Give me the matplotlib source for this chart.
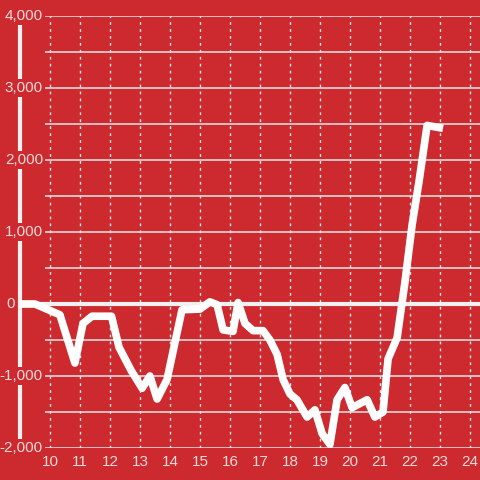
import matplotlib
matplotlib.use("Agg")
import matplotlib.pyplot as plt
import matplotlib.transforms as mtransforms

# values
hours = [9.0, 9.5, 10.33, 10.83, 11.1, 11.4, 12.05, 12.3, 12.7, 13.07, 13.33,
         13.57, 13.9, 14.4, 15.0, 15.33, 15.57, 15.77, 16.1, 16.27, 16.5,
         16.77, 17.1, 17.33, 17.57, 17.77, 18.0, 18.23, 18.57, 18.83, 19.07,
         19.33, 19.57, 19.83, 20.07, 20.57, 20.83, 21.1, 21.27, 21.57, 21.83,
         22.07, 22.3, 22.57, 23.1]
values = [0, 0, -150, -820, -270, -170, -170, -600, -920, -1170, -1000,
          -1320, -1050, -80, -70, 30, -10, -360, -380, 20, -270,
          -370, -370, -500, -700, -1050, -1250, -1330, -1570, -1470, -1800,
          -1950, -1330, -1160, -1440, -1330, -1570, -1500, -760, -470, 300,
          1100, 1700, 2480, 2440]
x_ticks = list(range(10, 25))
y_ticks = [-2000, -1000, 0, 1000, 2000, 3000, 4000]
y_grid = [-2000, -1500, -1000, -500, 500, 1000, 1500, 2000, 2500, 3000, 3500, 4000]

bg = "#cc2a2f"
txt = "#f4dada"

fig = plt.figure(figsize=(4.8, 4.8), dpi=100)
fig.patch.set_facecolor(bg)
ax = fig.add_axes([20 / 480, 32 / 480, 460 / 480, 432 / 480])
ax.set_facecolor(bg)
ax.set_xlim(9.0, 24.333)
ax.set_ylim(-2000, 4000)

for s in ["top", "right", "bottom"]:
    ax.spines[s].set_visible(False)
ax.spines["left"].set_color("#f4f0f0")
ax.spines["left"].set_linewidth(3)
ax.spines["left"].set_zorder(3)

# grid
for g in y_grid:
    ax.hlines(g, 9.833, 24.333, color="#d9d9d9", lw=1.2, zorder=1)
for t in x_ticks:
    ax.axvline(t, color="#e8e8e8", lw=1, ls=(0, (2, 3)), zorder=1)
ax.hlines(0, 9.0, 24.333, color="#f4f0f0", lw=3, zorder=2)

ax.plot(hours, values, color="white", lw=5.5, solid_joinstyle="round",
        solid_capstyle="butt", zorder=4)

ax.set_xticks(x_ticks)
ax.set_xticklabels([str(t) for t in x_ticks], color=txt, fontsize=11,
                   family="Liberation Sans")
ax.tick_params(axis="x", length=0, pad=5)
ax.set_yticks([])

trans = mtransforms.blended_transform_factory(fig.transFigure, ax.transData)
for v in y_ticks:
    xpos = 15 / 480 if v == 0 else 43 / 480
    ax.text(xpos, v, f"{v:,}", transform=trans, ha="right", va="center",
            color=txt, fontsize=11, family="Liberation Sans", zorder=5,
            bbox=dict(facecolor=bg, edgecolor="none", pad=1.5),
            clip_on=False)

fig.savefig("out.png", dpi=100, facecolor=bg)
